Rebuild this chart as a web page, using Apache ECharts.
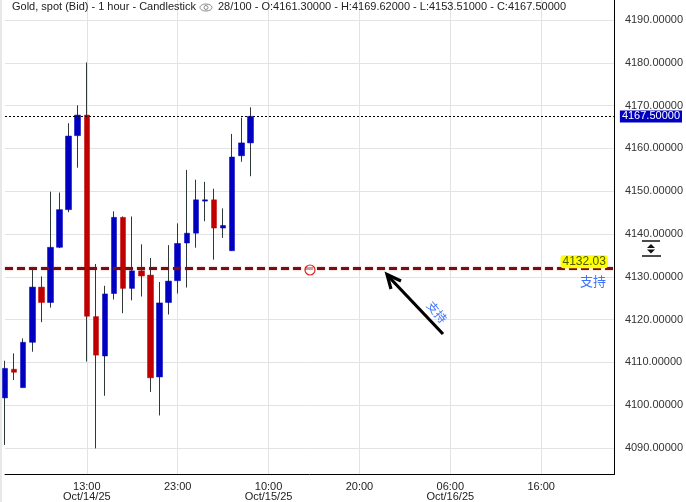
<!DOCTYPE html>
<html>
<head>
<meta charset="utf-8">
<script src="https://cdn.jsdelivr.net/npm/echarts@6/dist/echarts.min.js"></script>
<style>
html,body{margin:0;padding:0;background:#fff;}
#chart{width:686px;height:502px;}
</style>
</head>
<body>
<div id="chart"></div>
<script>
// ---- data ----
const candleOpen  = [4101.7,4108.4,4104.1,4114.7,4127.6,4124.0,4136.9,4145.7,4163.0,4167.8,4120.7,4111.5,4126.1,4143.9,4127.3,4131.4,4130.4,4106.6,4124.0,4129.1,4137.9,4140.2,4147.7,4148.0,4141.4,4136.1,4158.3,4161.3];
const candleClose = [4108.6,4107.7,4114.7,4127.6,4124.0,4136.9,4145.7,4162.9,4167.8,4120.8,4111.7,4126.0,4143.9,4127.3,4131.4,4130.2,4106.4,4123.9,4129.0,4137.8,4140.2,4148.0,4148.0,4141.4,4142.0,4158.0,4161.3,4167.5];
const candleLow   = [4090.7,4105.9,4104.1,4112.5,4119.4,4122.8,4136.7,4145.1,4155.5,4110.2,4089.9,4102.2,4124.7,4121.5,4124.5,4125.4,4103.1,4097.6,4121.2,4126.1,4127.5,4136.8,4143.0,4134.0,4139.1,4136.1,4156.9,4153.51];
const candleHigh  = [4110.4,4112.1,4115.6,4131.7,4130.1,4149.9,4149.7,4165.9,4170.1,4180.1,4133.0,4127.9,4145.3,4144.1,4144.1,4137.6,4134.4,4128.8,4137.4,4142.5,4155.0,4152.7,4152.2,4150.6,4146.0,4163.4,4167.2,4169.62];
const slotCount = 68;
const tickIndex = [9,19,29,39,49,59];
const tickLabels = ['13:00\nOct/14/25','23:00','10:00\nOct/15/25','20:00','06:00\nOct/16/25','16:00'];
const yMin = 4083.8, yMax = 4194.7;
const supportLevel = 4132.03;
const lastPrice = 4167.5;
const headerText1 = 'Gold, spot (Bid) - 1 hour - Candlestick';
const headerText2 = '28/100 - O:4161.30000 - H:4169.62000 - L:4153.51000 - C:4167.50000';

// ---- build ----
const categories = [];
for (let i = 0; i < slotCount; i++) {
  const k = tickIndex.indexOf(i);
  categories.push(k >= 0 ? tickLabels[k] : String(i));
}
const wickData = candleOpen.map((o, i) => [o, candleClose[i], candleLow[i], candleHigh[i]]);
const bodyData = candleOpen.map((o, i) => [o, candleClose[i], Math.min(o, candleClose[i]), Math.max(o, candleClose[i])]);
const isTick = (idx) => tickIndex.indexOf(idx) >= 0;

const FONT = '"Liberation Sans", Arial, sans-serif';
const chart = echarts.init(document.getElementById('chart'), null, {renderer: 'canvas'});

const option = {
  animation: false,
  backgroundColor: '#ffffff',
  grid: {left: 5, right: 70, top: 0, bottom: 24, containLabel: false},
  xAxis: {
    type: 'category',
    data: categories,
    boundaryGap: false,
    axisLine: {show: true, lineStyle: {color: '#000', width: 1}},
    axisTick: {show: false},
    axisLabel: {
      interval: (idx) => isTick(idx),
      formatter: (v) => v,
      color: '#222', fontSize: 11, fontFamily: FONT, lineHeight: 10, margin: 7
    },
    splitLine: {show: true, interval: (idx) => isTick(idx), lineStyle: {color: '#e3e3e3', width: 1}}
  },
  yAxis: {
    type: 'value',
    position: 'right',
    min: yMin, max: yMax,
    splitNumber: 11, minInterval: 10, maxInterval: 10,
    axisLine: {show: true, lineStyle: {color: '#000', width: 1}},
    axisTick: {show: false},
    axisLabel: {
      formatter: (v) => v.toFixed(5),
      color: '#333', fontSize: 11, fontFamily: FONT, margin: 11,
      showMinLabel: false, showMaxLabel: false
    },
    splitLine: {show: true, showMinLine: false, showMaxLine: false, lineStyle: {color: '#e3e3e3', width: 1}}
  },
  series: [
    {
      name: 'wick', type: 'candlestick', data: wickData, barWidth: 0.1, clip: false, z: 2,
      itemStyle: {color: '#2d3838', color0: '#2d3838', borderColor: '#2d3838', borderColor0: '#2d3838', borderWidth: 1},
      silent: true
    },
    {
      name: 'body', type: 'candlestick', data: bodyData, barWidth: 6, clip: false, z: 3,
      itemStyle: {color: '#0000c0', color0: '#c00000', borderColor: '#0000c0', borderColor0: '#c00000', borderWidth: 0.5},
      silent: true,
      markLine: {
        silent: true, symbol: ['none', 'none'], animation: false,
        data: [
          {yAxis: lastPrice,
           lineStyle: {color: '#000', width: 1, type: [2, 2]},
           label: {show: true, position: 'end', distance: 6, formatter: lastPrice.toFixed(5),
                   color: '#fff', backgroundColor: '#0000c0', padding: [1, 2, 0, 2],
                   fontSize: 11, fontFamily: FONT}},
          {yAxis: supportLevel,
           lineStyle: {color: '#7a0e0e', width: 3, type: [8, 4], shadowColor: 'rgba(160,60,60,0.5)', shadowBlur: 2},
           label: {show: true, position: 'insideEndTop', distance: [6, 0], formatter: supportLevel.toFixed(2),
                   color: '#4c5a00', backgroundColor: '#ffff00', padding: [1, 2, 0, 2], borderRadius: 3,
                   fontSize: 12, fontFamily: FONT}},
          {yAxis: supportLevel,
           lineStyle: {color: 'rgba(0,0,0,0)', width: 0},
           label: {show: true, position: 'insideEndBottom', distance: [8, 6], formatter: '支持',
                   color: '#3f74ff', fontSize: 13, fontFamily: '"Noto Sans CJK SC", sans-serif'}}
        ]
      }
    }
  ],
  graphic: [
    {type: 'rect', shape: {x: 0, y: 0, width: 2, height: 502}, style: {fill: '#e8e8e8'}, silent: true, z: 10},
    {type: 'text', x: 12, y: 1, style: {text: headerText1, font: '11px ' + FONT, fill: '#222'}, z: 10},
    {type: 'ellipse', shape: {cx: 206, cy: 7.5, rx: 6, ry: 3.5}, style: {fill: 'none', stroke: '#888', lineWidth: 1}, z: 10},
    {type: 'circle', shape: {cx: 206, cy: 7.5, r: 2}, style: {fill: 'none', stroke: '#888', lineWidth: 1}, z: 10},
    {type: 'text', x: 218, y: 1, style: {text: headerText2, font: '11px ' + FONT, fill: '#222'}, z: 10},
    // red circle marker
    {type: 'circle', shape: {cx: 310, cy: 270, r: 5}, style: {fill: 'rgba(255,255,255,0.6)', stroke: '#e02020', lineWidth: 1.2}, z: 10},
    // arrow
    {type: 'line', shape: {x1: 443, y1: 334, x2: 389, y2: 277}, style: {stroke: '#000', lineWidth: 3.2, lineCap: 'butt'}, z: 10},
    {type: 'polyline', shape: {points: [[391, 289], [387, 274.5], [401, 281]]}, style: {stroke: '#000', lineWidth: 3.2, fill: 'none', lineJoin: 'miter'}, z: 10},
    {type: 'text', x: 437, y: 312, rotation: -50 * Math.PI / 180, originX: 0, originY: 0,
     style: {text: '支持', font: '12px "Noto Sans CJK SC", sans-serif', fill: '#3f74ff', align: 'center', verticalAlign: 'middle'}, z: 10},
    // right-axis scroll icon
    {type: 'rect', shape: {x: 641, y: 239, width: 21, height: 19}, style: {fill: '#fff'}, z: 10},
    {type: 'line', shape: {x1: 642, y1: 241, x2: 660, y2: 241}, style: {stroke: '#111', lineWidth: 1.5}, z: 11},
    {type: 'line', shape: {x1: 642, y1: 256, x2: 661, y2: 256}, style: {stroke: '#111', lineWidth: 1.5}, z: 11},
    {type: 'polygon', shape: {points: [[647, 248], [651, 244], [655, 248]]}, style: {fill: '#111'}, z: 11},
    {type: 'polygon', shape: {points: [[647, 249.5], [651, 253.5], [655, 249.5]]}, style: {fill: '#111'}, z: 11}
  ]
};
chart.setOption(option);
</script>
</body>
</html>
